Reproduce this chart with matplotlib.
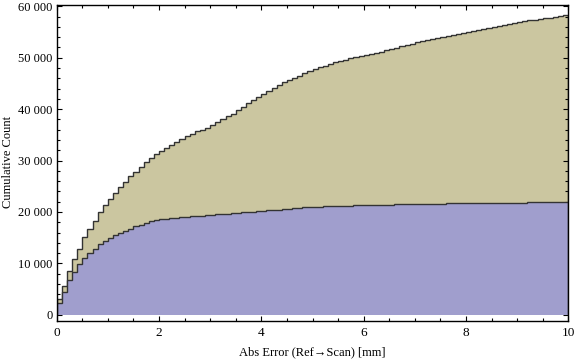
import numpy as np
import matplotlib
matplotlib.use("Agg")
import matplotlib.pyplot as plt
from matplotlib.ticker import MultipleLocator, FuncFormatter

# Bin edges: 0 .. 10 mm in 0.1 mm bins
bin_width = 0.1
n_bins = 100

# Cumulative counts (tan / larger series)
cum_total = [
    3000, 5700, 8500, 10950, 12900, 15060, 16600, 18330, 19950, 21300,
    22480, 23680, 24850, 25880, 26930, 27870, 28840, 29650, 30430, 31210,
    31850, 32490, 32950, 33600, 34120, 34700, 35160, 35680, 36000, 36380,
    36900, 37430, 38010, 38600, 39050, 39770, 40410, 41130, 41740, 42330,
    42940, 43520, 44110, 44690, 45210, 45660, 46050, 46440, 46960, 47350,
    47800, 48130, 48390, 48770, 49100, 49360, 49600, 49850, 50050, 50250,
    50470, 50780, 50970, 51170, 51500, 51690, 51950, 52330, 52530, 52720,
    53000, 53310, 53500, 53700, 53890, 54090, 54280, 54470, 54670, 54860,
    55060, 55250, 55450, 55640, 55840, 56030, 56230, 56420, 56610, 56810,
    57000, 57140, 57270, 57390, 57520, 57650, 57780, 57910, 58050, 58240,
]

# Cumulative counts (blue / smaller series)
cum_subset = [
    2300, 4480, 6720, 8400, 9820, 10970, 11940, 12780, 13690, 14340,
    14860, 15450, 15900, 16380, 16780, 17180, 17550, 17950, 18200, 18400,
    18600, 18720, 18780, 18900, 18980, 19080, 19140, 19200, 19300, 19360,
    19450, 19520, 19580, 19680, 19740, 19850, 19920, 19980, 20080, 20140,
    20250, 20310, 20360, 20460, 20520, 20640, 20700, 20800, 20880, 20920,
    21020, 21060, 21100, 21120, 21150, 21180, 21220, 21260, 21280, 21310,
    21340, 21360, 21380, 21400, 21420, 21440, 21460, 21480, 21500, 21520,
    21540, 21560, 21580, 21600, 21620, 21640, 21660, 21670, 21690, 21700,
    21720, 21730, 21740, 21750, 21760, 21770, 21780, 21790, 21800, 21810,
    21830, 21840, 21850, 21860, 21870, 21880, 21890, 21895, 21900, 21905,
]

x_ticks = [0, 2, 4, 6, 8, 10]
y_ticks = [0, 10000, 20000, 30000, 40000, 50000, 60000]

xlabel = "Abs Error (Ref\u2192Scan) [mm]"
ylabel = "Cumulative Count"

plt.rcParams['font.family'] = ['Liberation Serif', 'DejaVu Serif']

edges = np.arange(n_bins + 1) * bin_width

W, H = 576, 361
fig = plt.figure(figsize=(W / 100, H / 100), dpi=100)
ax = fig.add_axes([56.7 / W, 1 - 320.5 / H, (568.3 - 56.7) / W, (320.5 - 5) / H])

tan = "#CBC6A0"
blue = "#A09ECD"
edge = "#333333"

ax.stairs(cum_total, edges, fill=True, color=tan, linewidth=0, zorder=1)
ax.stairs(cum_total, edges, fill=False, color=edge, linewidth=1.0, zorder=2)
ax.stairs(cum_subset, edges, fill=True, color=blue, linewidth=0, zorder=3)
ax.stairs(cum_subset, edges, fill=False, color=edge, linewidth=1.0, zorder=4)

ax.set_xlim(0, 10)
ax.set_ylim(-1100, 60250)

ax.set_xticks(x_ticks)
ax.set_yticks(y_ticks)
ax.xaxis.set_minor_locator(MultipleLocator(0.5))
ax.yaxis.set_minor_locator(MultipleLocator(2000))


def fmt(v, pos):
    v = int(round(v))
    if v == 0:
        return "0"
    return f"{v:,}".replace(",", " ")


ax.yaxis.set_major_formatter(FuncFormatter(fmt))

ax.tick_params(axis='both', which='both', direction='in', top=True, right=True,
               colors='black', width=0.8)
ax.tick_params(axis='x', which='major', labelsize=9.5, pad=5)
ax.tick_params(axis='y', which='major', labelsize=9, pad=3)
ax.tick_params(axis='both', which='major', length=3.8)
ax.tick_params(axis='both', which='minor', length=2.0)

for s in ax.spines.values():
    s.set_linewidth(1.0)
    s.set_color('black')
    s.set_zorder(10)

fig.text(312.5 / W, 1 - 352 / H, xlabel, fontsize=9, ha='center', va='center')
fig.text(8.5 / W, 1 - 162 / H, ylabel, fontsize=9, ha='center', va='center',
         rotation=90)

fig.savefig("out.png", dpi=100)
